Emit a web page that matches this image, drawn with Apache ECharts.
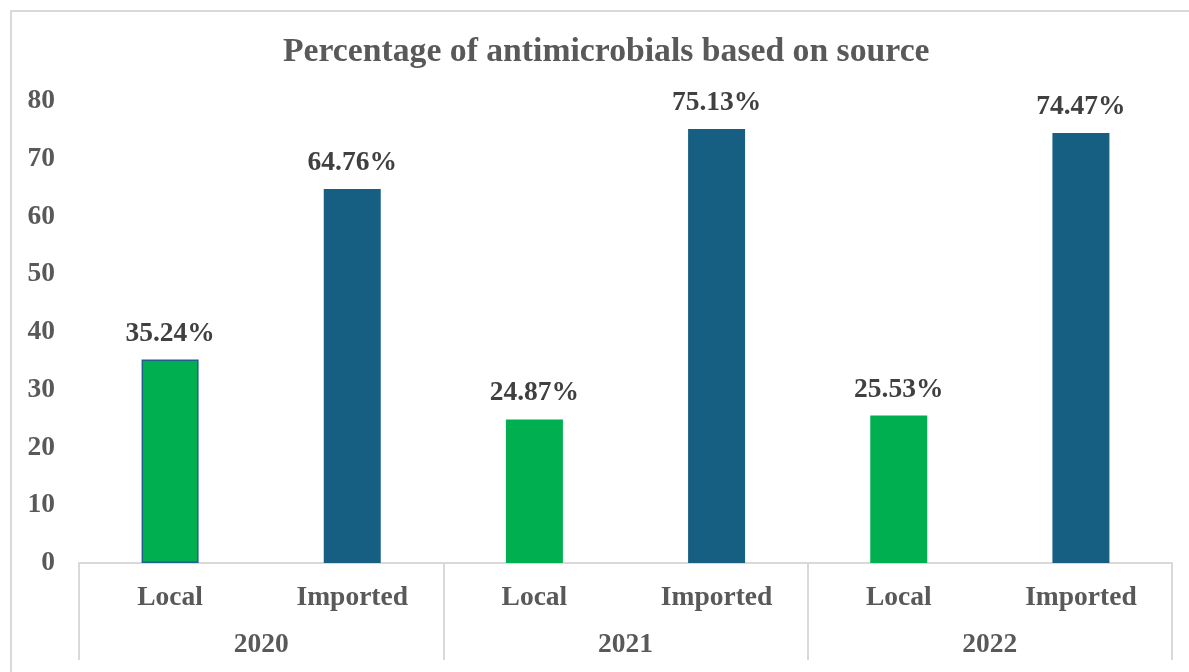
<!DOCTYPE html>
<html>
<head>
<meta charset="utf-8">
<script src="https://cdn.jsdelivr.net/npm/echarts@6/dist/echarts.min.js"></script>
<style>
  html, body { margin: 0; padding: 0; background: #fff; }
  #frame { position: absolute; left: 10px; top: 10px; width: 1200px; height: 700px; border: 2px solid #d9d9d9; box-sizing: border-box; }
  #chart { position: absolute; left: 0; top: 0; width: 1189px; height: 672px; }
</style>
</head>
<body>
<div id="frame"></div>
<div id="chart"></div>
<script>
const sources = ['Local', 'Imported', 'Local', 'Imported', 'Local', 'Imported']
const years = ['2020', '2021', '2022']
const percentages = [35.24, 64.76, 24.87, 75.13, 25.53, 74.47]
const yTicks = [0, 10, 20, 30, 40, 50, 60, 70, 80]

const fontFamily = '"Liberation Serif", "Times New Roman", serif'
const sourceColors = { Local: '#00b050', Imported: '#175f82' }

const chart = echarts.init(document.getElementById('chart'))

const gridBox = { left: 79, right: 17, top: 101, bottom: 109 }

const option = {
  animation: false,
  title: {
    text: 'Percentage of antimicrobials based on source',
    left: 278,
    top: 30,
    textStyle: {
      fontFamily,
      fontSize: 33.7,
      fontWeight: 'bold',
      color: '#595959',
    },
  },
  grid: [
    { ...gridBox },
    { ...gridBox },
  ],
  xAxis: [
    {
      type: 'category',
      gridIndex: 0,
      data: sources,
      axisLine: { lineStyle: { color: '#d9d9d9', width: 2 } },
      axisTick: { show: false },
      axisLabel: {
        margin: 21,
        fontFamily,
        fontSize: 27.5,
        fontWeight: 'bold',
        color: '#595959',
      },
    },
    {
      type: 'category',
      gridIndex: 1,
      data: years,
      axisLine: { show: false },
      axisTick: {
        show: true,
        interval: 0,
        length: 97,
        lineStyle: { color: '#d9d9d9', width: 2 },
      },
      axisLabel: {
        margin: 68,
        fontFamily,
        fontSize: 27.5,
        fontWeight: 'bold',
        color: '#595959',
      },
    },
  ],
  yAxis: [
    {
      type: 'value',
      gridIndex: 0,
      min: yTicks[0],
      max: yTicks[yTicks.length - 1],
      interval: yTicks[1] - yTicks[0],
      axisLine: { show: false },
      axisTick: { show: false },
      splitLine: { show: false },
      axisLabel: {
        margin: 24,
        fontFamily,
        fontSize: 27.5,
        fontWeight: 'bold',
        color: '#595959',
      },
    },
    {
      type: 'value',
      gridIndex: 1,
      show: false,
    },
  ],
  series: [
    {
      type: 'bar',
      xAxisIndex: 0,
      yAxisIndex: 0,
      barWidth: 57,
      data: percentages.map((value, i) => ({
        value,
        itemStyle: {
          color: sourceColors[sources[i]],
          borderColor: i === 0 ? '#1f5f8b' : sourceColors[sources[i]],
          borderWidth: i === 0 ? 1.5 : 0,
        },
      })),
      label: {
        show: true,
        position: 'top',
        distance: 12,
        formatter: (p) => p.value.toFixed(2) + '%',
        fontFamily,
        fontSize: 27.5,
        fontWeight: 'bold',
        color: '#404040',
      },
    },
  ],
}

chart.setOption(option)
</script>
</body>
</html>
